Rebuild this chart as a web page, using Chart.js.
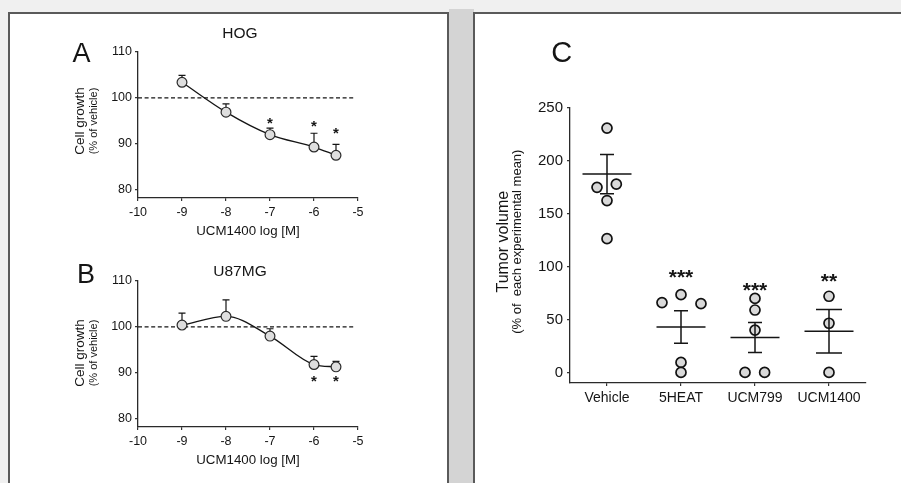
<!DOCTYPE html>
<html>
<head>
<meta charset="utf-8">
<script src="https://cdn.jsdelivr.net/npm/chart.js@4.4.1/dist/chart.umd.min.js"></script>
<style>
  html, body { margin: 0; padding: 0; }
  body { width: 901px; height: 483px; background: #f0f0f0; position: relative; overflow: hidden; }
  .gap { position: absolute; left: 449px; top: 9px; width: 25px; height: 474px; background: #d4d4d4; }
  .panel { position: absolute; background: #fff; box-sizing: border-box; border: 2px solid #5a5a5a; border-bottom: none; }
  #left { left: 8px; top: 12px; width: 441px; height: 471px; }
  #right { left: 473px; top: 12px; width: 440px; height: 471px; border-right: none; }
  canvas { position: absolute; }
</style>
</head>
<body>
<div class="gap"></div>
<div class="panel" id="left"></div>
<div class="panel" id="right"></div>
<canvas id="chartA" width="450" height="240" style="left:0;top:0"></canvas>
<canvas id="chartB" width="450" height="240" style="left:0;top:229px"></canvas>
<canvas id="chartC" width="427" height="483" style="left:474px;top:0"></canvas>

<script>
// dose response (panels A and B)
const doseLog = [-9, -8, -7, -6, -5.5];
const doseTicks = [-10, -9, -8, -7, -6, -5];
const growthTicks = [80, 90, 100, 110];
const growthMin = 78.2;
const growthMax = 110;
const vehicleLevel = 100;
const vehicleLineEnd = -5.07;

const hogGrowth = [103.4, 96.9, 92.0, 89.3, 87.5];
const hogErr = [1.5, 1.8, 1.4, 3.0, 2.4];
const hogMarks = ['', '', '*', '*', '*'];
const hogMarkAt = [0, 0, 94.9, 94.3, 92.7];

const u87Growth = [100.4, 102.3, 98.0, 91.8, 91.3];
const u87Err = [2.6, 3.6, 1.6, 1.8, 1.2];
const u87Marks = ['', '', '', '*', '*'];
const u87MarkAt = [0, 0, 0, 88.6, 88.6];

// tumor volume (panel C)
const groups = ['Vehicle', '5HEAT', 'UCM799', 'UCM1400'];
const volVehicle = [231, 178, 175, 162.5, 126.5];
const vol5heat = [73.5, 66, 65, 9.5, 0];
const volUcm799 = [70, 59, 40, 0, 0];
const volUcm1400 = [72, 46.5, 0];
const volMean = [187.5, 43, 33, 39];
const volSem = [18.5, 15.4, 14.2, 20.6];
const volMarks = ['', '***', '***', '**'];
const volMarkAt = [0, 93.5, 80.8, 89.3];
const volTicks = [0, 50, 100, 150, 200, 250];
const volMin = -10;
const volMax = 250;

// horizontal spread of overlapping dots, in category widths
const jitter = [
  [0, 0.126, -0.135, 0, 0],
  [0, -0.257, 0.27, 0, 0],
  [0, 0, 0, -0.135, 0.13],
  [0, 0, 0]
];

const ink = '#151515';
const FONT = '"Liberation Sans", Arial, sans-serif';

function drawCentered(ctx, text, x, y, font, rot) {
  ctx.save();
  ctx.translate(x, y);
  if (rot) ctx.rotate(rot);
  ctx.font = font;
  ctx.fillStyle = ink;
  ctx.textAlign = 'center';
  ctx.textBaseline = 'alphabetic';
  const m = ctx.measureText(text);
  ctx.fillText(text, 0, (m.actualBoundingBoxAscent - m.actualBoundingBoxDescent) / 2);
  ctx.restore();
}

const textLayer = items => ({
  id: 'textLayer',
  afterDraw(chart) {
    items.forEach(t => drawCentered(chart.ctx, t.text, t.x, t.y, t.font, t.rot));
  }
});

const axisStyle = (size, tick, pad) => ({
  ticks: { color: ink, font: { family: FONT, size: size }, padding: pad },
  grid: { display: true, drawOnChartArea: false, drawTicks: true, tickLength: tick, color: '#333', lineWidth: 1.2 },
  border: { display: true, color: '#2a2a2a', width: 1.3 }
});

// error bars (upper only) + significance stars
const doseMarks = (values, errs, marks, markAt) => ({
  id: 'doseMarks',
  beforeDatasetsDraw(chart) {
    const { ctx, scales: { x, y } } = chart;
    ctx.save();
    ctx.strokeStyle = ink;
    ctx.lineWidth = 1.2;
    doseLog.forEach((d, i) => {
      const px = x.getPixelForValue(d);
      const y0 = y.getPixelForValue(values[i]);
      const y1 = y.getPixelForValue(values[i] + errs[i]);
      ctx.beginPath();
      ctx.moveTo(px, y0); ctx.lineTo(px, y1);
      ctx.moveTo(px - 3.5, y1); ctx.lineTo(px + 3.5, y1);
      ctx.stroke();
    });
    ctx.restore();
  },
  afterDatasetsDraw(chart) {
    const { ctx, scales: { x, y } } = chart;
    marks.forEach((m, i) => {
      if (m) drawCentered(ctx, m, x.getPixelForValue(doseLog[i]), y.getPixelForValue(markAt[i]), 'bold 15px ' + FONT);
    });
  }
});

function doseChart(id, values, errs, marks, markAt, texts) {
  const xs = axisStyle(12.5, 3, 4);
  const ys = axisStyle(12.5, 3, 3);
  return new Chart(document.getElementById(id), {
    type: 'line',
    data: {
      datasets: [
        {
          data: doseLog.map((x, i) => ({ x, y: values[i] })),
          borderColor: ink, borderWidth: 1.3, cubicInterpolationMode: 'monotone',
          pointRadius: 4.9, pointBackgroundColor: '#dedede', pointBorderColor: '#2a2a2a', pointBorderWidth: 1.2,
          order: 1
        },
        {
          data: [{ x: doseTicks[0], y: vehicleLevel }, { x: vehicleLineEnd, y: vehicleLevel }],
          borderColor: ink, borderWidth: 1.2, borderDash: [4, 2.6], pointRadius: 0,
          order: 2
        }
      ]
    },
    options: {
      responsive: false,
      animation: false,
      events: [],
      layout: { padding: { left: 88, right: 92, top: 52, bottom: 1 } },
      plugins: { legend: { display: false }, tooltip: { enabled: false } },
      scales: {
        x: {
          type: 'linear', min: doseTicks[0], max: doseTicks[doseTicks.length - 1],
          afterBuildTicks: s => { s.ticks = doseTicks.map(value => ({ value })); },
          afterFit: s => { s.height = 41; },
          ...xs,
          title: { display: true, text: 'UCM1400 log [M]', color: ink, font: { family: FONT, size: 13.3 }, padding: { top: 0, bottom: 0 } }
        },
        y: {
          min: growthMin, max: growthMax,
          afterBuildTicks: s => { s.ticks = growthTicks.map(value => ({ value })); },
          afterFit: s => { s.width = 50; },
          ...ys
        }
      }
    },
    plugins: [doseMarks(values, errs, marks, markAt), textLayer(texts)]
  });
}

const up = -Math.PI / 2;

doseChart('chartA', hogGrowth, hogErr, hogMarks, hogMarkAt, [
  { text: 'A', x: 81.5, y: 52, font: '27px ' + FONT },
  { text: 'HOG', x: 240, y: 33, font: '15.5px ' + FONT },
  { text: 'Cell growth', x: 81, y: 121, font: '13.5px ' + FONT, rot: up },
  { text: '(% of vehicle)', x: 93.5, y: 121, font: '11px ' + FONT, rot: up }
]);

doseChart('chartB', u87Growth, u87Err, u87Marks, u87MarkAt, [
  { text: 'B', x: 86, y: 44.3, font: '27px ' + FONT },
  { text: 'U87MG', x: 240, y: 41.7, font: '15.5px ' + FONT },
  { text: 'Cell growth', x: 81, y: 124, font: '13.5px ' + FONT, rot: up },
  { text: '(% of vehicle)', x: 93.5, y: 124, font: '11px ' + FONT, rot: up }
]);

// mean line + SEM bars drawn over the dots
const meanHalf = 24.5;
const capHalf = [7, 7, 7, 13];
const volSummary = {
  id: 'volSummary',
  afterDatasetsDraw(chart) {
    const { ctx, scales: { x, y } } = chart;
    ctx.save();
    ctx.strokeStyle = ink;
    ctx.lineWidth = 1.5;
    volMean.forEach((m, g) => {
      const px = x.getPixelForValue(g);
      const ym = y.getPixelForValue(m);
      const yt = y.getPixelForValue(m + volSem[g]);
      const yb = y.getPixelForValue(m - volSem[g]);
      ctx.beginPath();
      ctx.moveTo(px - meanHalf, ym); ctx.lineTo(px + meanHalf, ym);
      ctx.moveTo(px, yt); ctx.lineTo(px, yb);
      ctx.moveTo(px - capHalf[g], yt); ctx.lineTo(px + capHalf[g], yt);
      ctx.moveTo(px - capHalf[g], yb); ctx.lineTo(px + capHalf[g], yb);
      ctx.stroke();
    });
    ctx.restore();
    volMarks.forEach((s, g) => {
      if (s) drawCentered(ctx, s, x.getPixelForValue(g), y.getPixelForValue(volMarkAt[g]), 'bold 21px ' + FONT);
    });
  }
};

const volumes = [volVehicle, vol5heat, volUcm799, volUcm1400];
const cx = axisStyle(14, 3, 4);
const cy = axisStyle(15, 3, 4);

new Chart(document.getElementById('chartC'), {
  type: 'scatter',
  data: {
    datasets: [{
      data: volumes.flatMap((vals, g) => vals.map((v, k) => ({ x: g + jitter[g][k], y: v }))),
      pointRadius: 5, pointBackgroundColor: '#d9d9d9', pointBorderColor: '#111', pointBorderWidth: 1.7
    }]
  },
  options: {
    responsive: false,
    animation: false,
    events: [],
    layout: { padding: { left: 36, right: 35, top: 108, bottom: 60 } },
    plugins: { legend: { display: false }, tooltip: { enabled: false } },
    scales: {
      x: {
        type: 'linear', min: -0.5, max: groups.length - 0.5,
        afterBuildTicks: s => { s.ticks = groups.map((g, i) => ({ value: i })); },
        afterFit: s => { s.height = 40; },
        ...cx,
        ticks: { ...cx.ticks, callback: v => groups[v] }
      },
      y: {
        min: volMin, max: volMax,
        afterBuildTicks: s => { s.ticks = volTicks.map(value => ({ value })); },
        afterFit: s => { s.width = 60; },
        ...cy
      }
    }
  },
  plugins: [volSummary, textLayer([
    { text: 'C', x: 87.7, y: 51.7, font: '29px ' + FONT },
    { text: 'Tumor volume', x: 27.7, y: 241.7, font: '16px ' + FONT, rot: up },
    { text: '(% of  each experimental mean)', x: 44.3, y: 241.7, font: '13px ' + FONT, rot: up }
  ])]
});
</script>
</body>
</html>
